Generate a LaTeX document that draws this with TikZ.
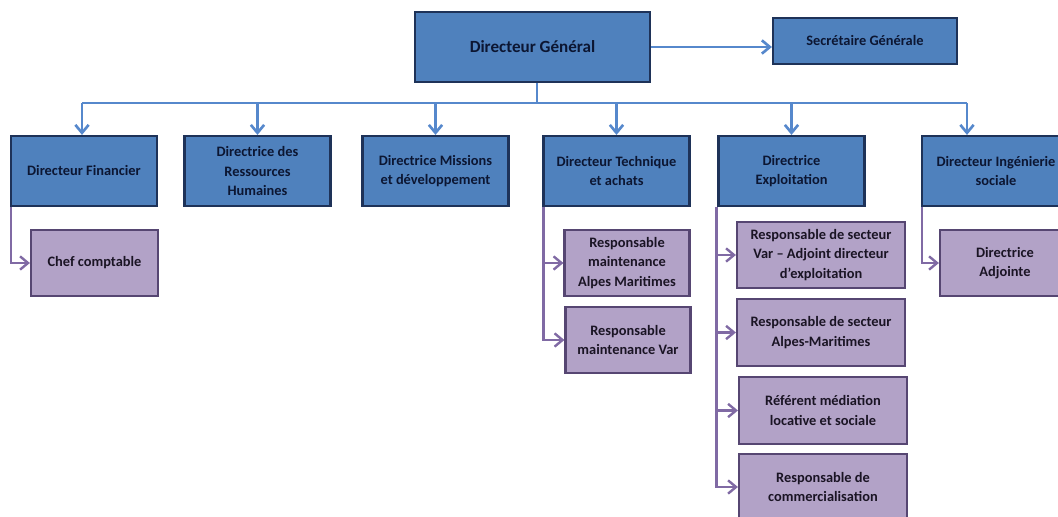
\documentclass[tikz,border=0pt]{standalone}
\usepackage{fontspec}
\setmainfont{Carlito}
\usetikzlibrary{arrows.meta}
\definecolor{boxblue}{RGB}{79,129,189}
\definecolor{boxblueline}{RGB}{30,50,88}
\definecolor{lineblue}{RGB}{86,136,204}
\definecolor{boxpurple}{RGB}{178,162,199}
\definecolor{boxpurpleline}{RGB}{86,70,114}
\definecolor{linepurple}{RGB}{128,106,164}
\definecolor{textblue}{RGB}{12,22,50}
\definecolor{textpurple}{RGB}{26,20,36}
\begin{document}
\begin{tikzpicture}[x=0.75pt,y=0.75pt,yscale=-1,xscale=1,
    bluebox/.style={draw=boxblueline,fill=boxblue,line width=1.6pt,text=textblue,align=center,inner sep=0pt,
        minimum width=109.5pt,minimum height=52.5pt,font=\bfseries\fontsize{10.8}{14.6}\selectfont},
    purplebox/.style={draw=boxpurpleline,fill=boxpurple,line width=1.6pt,text=textpurple,align=center,inner sep=0pt,
        minimum height=50pt,font=\bfseries\fontsize{10.8}{14.6}\selectfont},
    blueline/.style={draw=lineblue,line width=2pt},
    bluearrow/.style={blueline,-{Straight Barb[length=6pt,width=10pt]}},
    purplearrow/.style={draw=linepurple,line width=1.8pt,-{Straight Barb[length=6pt,width=10pt]}}
  ]
  \clip (0,0) rectangle (1058,517);

  % Top
  \node [bluebox,minimum width=176.25pt,font=\bfseries\fontsize{12.8}{15}\selectfont] (dg) at (532.5,47) {Directeur Général};
  \node [bluebox,minimum width=138pt,minimum height=34.5pt] (sg) at (865,41) {Secrétaire Générale};

  % Directions
  \node [bluebox] (df) at (84,171) {Directeur Financier};
  \node [bluebox] (rh) at (257.5,171) {Directrice des\\Ressources\\Humaines};
  \node [bluebox] (mi) at (435.5,171) {Directrice Missions\\et développement};
  \node [bluebox] (te) at (616.5,171) {Directeur Technique\\et achats};
  \node [bluebox] (ex) at (791.5,171) {Directrice\\Exploitation};
  \node [bluebox,minimum width=111pt] (ing) at (996,171) {Directeur Ingénierie\\sociale};

  % Services
  \node [purplebox,minimum width=95.25pt] (cc) at (94.5,263) {Chef comptable};
  \node [purplebox,minimum width=93.75pt] (rm1) at (627,263) {Responsable\\maintenance\\Alpes Maritimes};
  \node [purplebox,minimum width=93.75pt] (rm2) at (628,340) {Responsable\\maintenance Var};
  \node [purplebox,minimum width=126pt] (ex1) at (821,255) {Responsable de secteur\\Var – Adjoint directeur\\d’exploitation};
  \node [purplebox,minimum width=126pt] (ex2) at (821,332.5) {Responsable de secteur\\Alpes-Maritimes};
  \node [purplebox,minimum width=126pt] (ex3) at (823,410.5) {Référent médiation\\locative et sociale};
  \node [purplebox,minimum width=126pt] (ex4) at (823,487) {Responsable de\\commercialisation};
  \node [purplebox,minimum width=97.5pt] (adj) at (1005,263) {Directrice\\Adjointe};

  %Straight Lines
  \draw [bluearrow] (dg.east) -- (sg.west |- dg.east);
  \coordinate (busL) at (82,103);
  \coordinate (busR) at (967,103);
  \draw [blueline] ([xshift=3.4pt]dg.south) -- ([xshift=3.4pt]dg.south |- busL);
  \draw [blueline] (busL) -- (busR);
  \draw [bluearrow] (busL) -- (busL |- df.north);
  \foreach \n in {rh,mi,te,ex}
    \draw [bluearrow] (\n.north |- busL) -- (\n.north);
  \draw [bluearrow] (busR) -- (busR |- ing.north);

  %Straight Lines
  \draw [purplearrow] ([xshift=0.75pt]df.south west) |- (cc.west);
  \foreach \n in {rm1,rm2}
    \draw [purplearrow] ([xshift=0.75pt]te.south west) |- (\n.west);
  \foreach \n in {ex1,ex2,ex3,ex4}
    \draw [purplearrow] ([xshift=-0.75pt]ex.south west) |- (\n.west);
  \draw [purplearrow] ([xshift=0.75pt]ing.south west) |- (adj.west);
\end{tikzpicture}
\end{document}
